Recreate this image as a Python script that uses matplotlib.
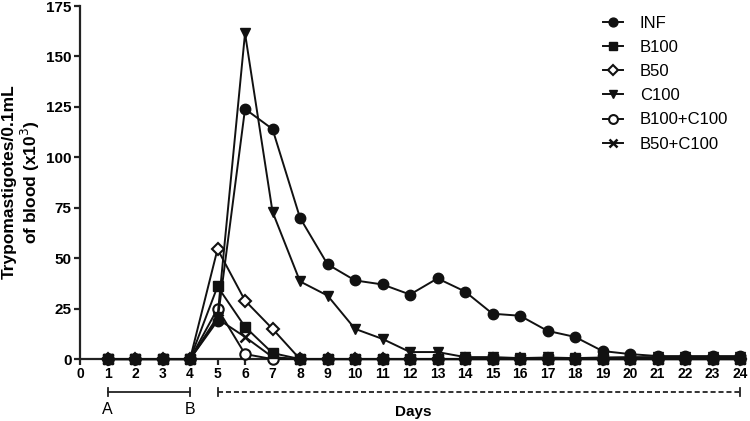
import matplotlib
matplotlib.use("Agg")
import matplotlib.pyplot as plt
import matplotlib.transforms as mtransforms

plt.rcParams['font.family'] = ['Liberation Sans', 'DejaVu Sans']

days = list(range(1, 25))
inf = [0, 0, 0, 0, 19, 124, 114, 70, 47, 39, 37, 32, 40, 33.5, 22.5, 21.5, 14, 11, 4, 2.5, 1.5, 1.5, 1.5, 1.5]
b100 = [0, 0, 0, 0, 36, 16, 3, 0, 0, 0, 0, 0, 0, 0, 0, 0, 0, 0, 0, 0, 0, 0, 0, 0]
b50 = [0, 0, 0, 0, 54.5, 29, 15, 0, 0, 0, 0, 0, 0, 0, 0, 0, 0, 0, 0, 0, 0, 0, 0, 0]
c100 = [0, 0, 0, 0, 21, 161.5, 73, 38.5, 31.5, 15, 10, 3.5, 3.5, 1, 1, 0.5, 0.8, 0.5, 0.8, 1, 1, 1, 1, 1]
b100c100 = [0, 0, 0, 0, 25, 2.5, 0, 0, 0, 0, 0, 0, 0, 0, 0, 0, 0, 0, 0, 0, 0, 0, 0, 0]
b50c100 = [0, 0, 0, 0, 20, 11, 1, 0, 0, 0, 0, 0, 0, 0, 0, 0, 0, 0, 0, 0, 0, 0, 0, 0]

series = [
    ("INF", inf, dict(marker='o', ms=7.5, mfc='#111111', mec='#111111')),
    ("B100", b100, dict(marker='s', ms=6.5, mfc='#111111', mec='#111111')),
    ("B50", b50, dict(marker='D', ms=6.5, mfc='white', mec='#111111', mew=1.5)),
    ("C100", c100, dict(marker='v', ms=7.5, mfc='#111111', mec='#111111')),
    ("B100+C100", b100c100, dict(marker='o', ms=7.5, mfc='white', mec='#111111', mew=1.5)),
    ("B50+C100", b50c100, dict(marker='x', ms=7.5, mec='#111111', mew=1.8)),
]

yticks = [0, 25, 50, 75, 100, 125, 150, 175]
xticks = list(range(0, 25))

fig = plt.figure(figsize=(7.5, 4.21), dpi=100)
ax = fig.add_axes([0.1067, 0.147, 0.88, 0.8387])

zorders = {"INF": 8, "B100": 6, "B50": 5, "C100": 7, "B100+C100": 4, "B50+C100": 3}
for name, vals, st in reversed(series):
    ax.plot(days, vals, color='#111111', lw=1.4, label=name, clip_on=False,
            zorder=zorders[name], **st)

ax.set_xlim(0, 24)
ax.set_ylim(0, 175)
ax.set_yticks(yticks)
ax.set_xticks(xticks)
ax.set_yticklabels([str(v) for v in yticks], fontweight='bold', fontsize=11)
ax.set_xticklabels([str(v) for v in xticks], fontweight='bold', fontsize=10)
for s in ['top', 'right']:
    ax.spines[s].set_visible(False)
for s in ['left', 'bottom']:
    ax.spines[s].set_linewidth(1.6)
    ax.spines[s].set_color('#222222')
ax.tick_params(axis='both', direction='out', length=4, width=1.6, color='#222222', pad=2)

fig.text(22 / 750, 1 - 182 / 421, "Trypomastigotes/0.1mL\nof blood (x10$^3$)", rotation=90,
         ha='center', va='center', fontweight='bold', fontsize=12.5, linespacing=1.1,
         multialignment='center')

# legend in the order of the reference
handles, labels = ax.get_legend_handles_labels()
order = [labels.index(n) for n, _, _ in series]
ax.legend([handles[i] for i in order], [labels[i] for i in order], loc='upper left',
          bbox_to_anchor=(0.77, 1.015), frameon=False, fontsize=12, handlelength=1.2,
          handletextpad=1.0, labelspacing=0.55, markerscale=0.85)

trans = mtransforms.blended_transform_factory(ax.transData, ax.transAxes)
ybar = -0.0935
cap = 0.012
ax.plot([1, 4], [ybar, ybar], color='#222222', lw=1.3, transform=trans, clip_on=False)
for xx in [1, 4]:
    ax.plot([xx, xx], [ybar - cap, ybar + cap], color='#222222', lw=1.3, transform=trans, clip_on=False)
ax.plot([5, 24], [ybar, ybar], color='#222222', lw=1.3, ls=(0, (2.8, 1.6)), transform=trans, clip_on=False)
for xx in [5, 24]:
    ax.plot([xx, xx], [ybar - cap, ybar + cap], color='#222222', lw=1.3, transform=trans, clip_on=False)
ax.text(1, -0.142, "A", transform=trans, ha='center', va='center', fontsize=11.5)
ax.text(4, -0.142, "B", transform=trans, ha='center', va='center', fontsize=11.5)
ax.text(12.1, -0.150, "Days", transform=trans, ha='center', va='center', fontsize=11, fontweight='bold')

fig.savefig("out.png", dpi=100)
